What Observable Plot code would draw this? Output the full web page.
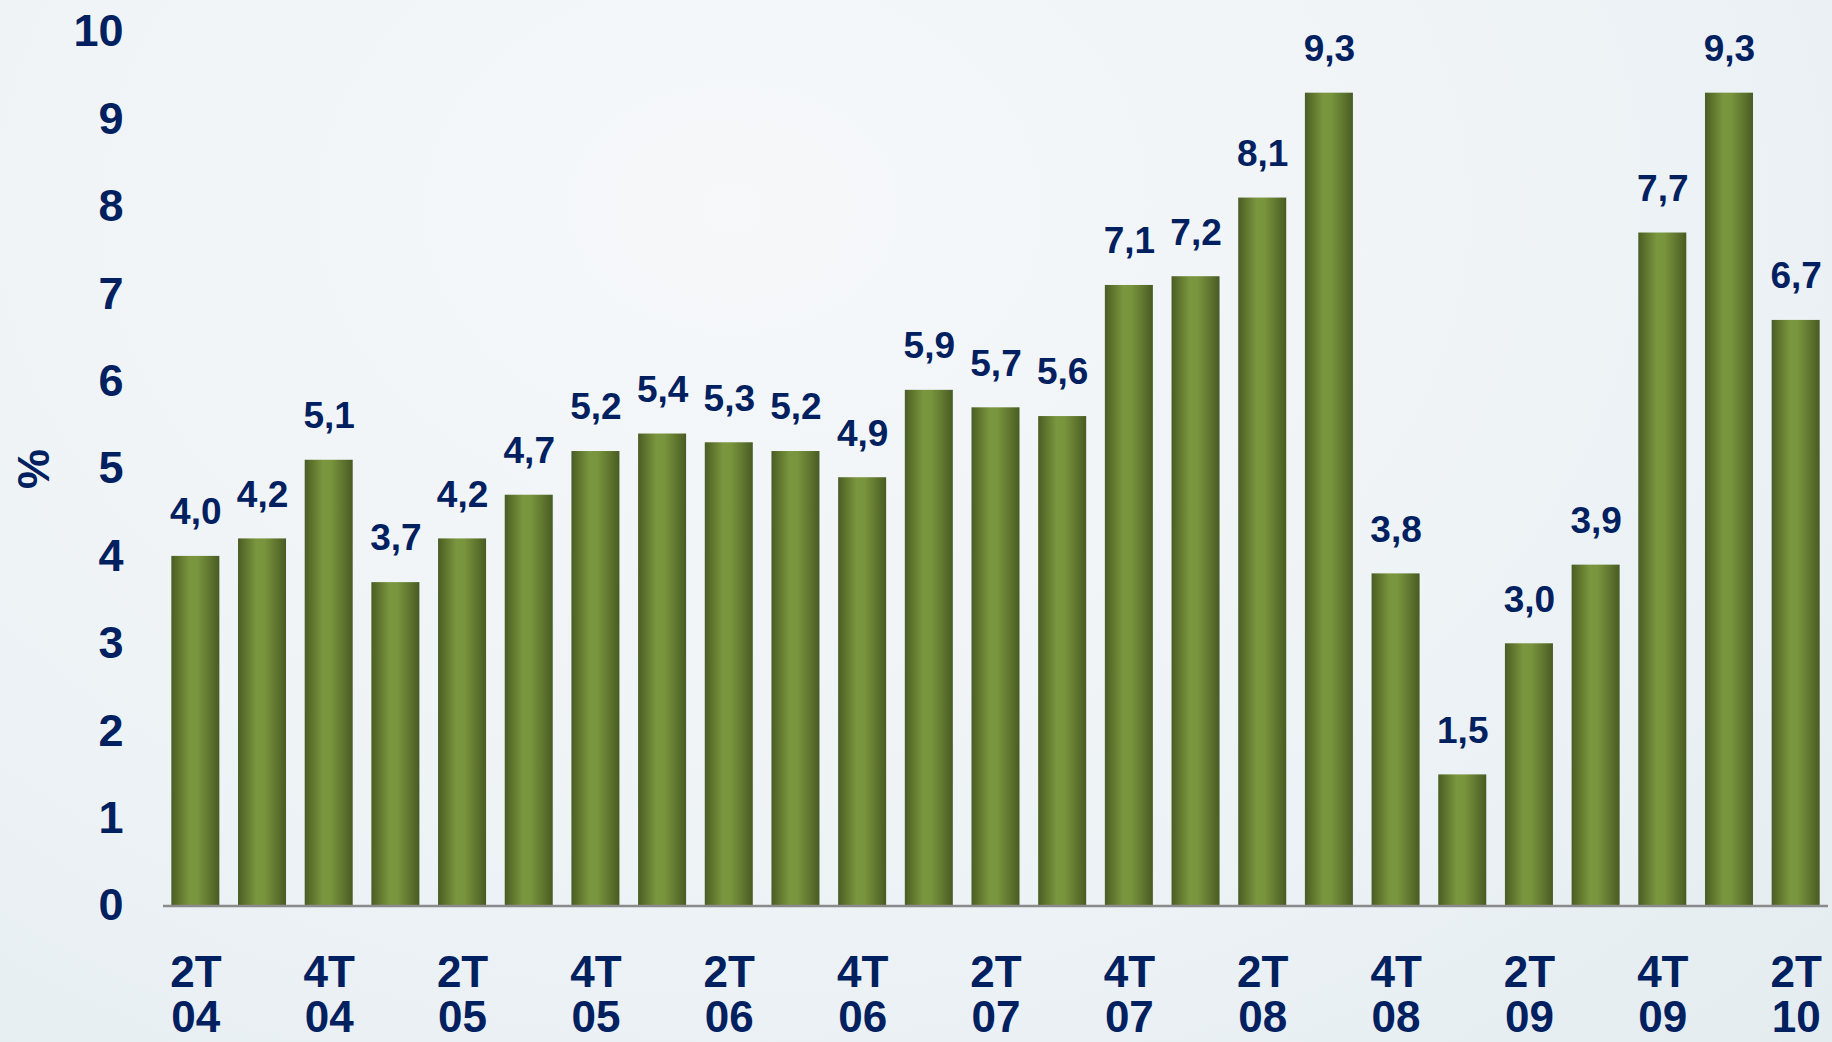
<!DOCTYPE html>
<html>
<head>
<meta charset="utf-8">
<script src="https://cdn.jsdelivr.net/npm/d3@7"></script>
<script src="https://cdn.jsdelivr.net/npm/@observablehq/plot@0.6"></script>
<style>
  html, body { margin: 0; padding: 0; }
  body {
    width: 1832px; height: 1042px; overflow: hidden;
    background: radial-gradient(ellipse at 40% 20%, #f6f8fa 0%, #eef3f6 55%, #e4ecef 100%);
  }
  #chart svg { display: block; }
</style>
</head>
<body>
<div id="chart"></div>
<script>
// Quarters (trimestres) from 2T04 to 2T10
const quarters = [
  "2T04","3T04","4T04",
  "1T05","2T05","3T05","4T05",
  "1T06","2T06","3T06","4T06",
  "1T07","2T07","3T07","4T07",
  "1T08","2T08","3T08","4T08",
  "1T09","2T09","3T09","4T09",
  "1T10","2T10"
];
// Values in %
const values = [
  4.0, 4.2, 5.1,
  3.7, 4.2, 4.7, 5.2,
  5.4, 5.3, 5.2, 4.9,
  5.9, 5.7, 5.6, 7.1,
  7.2, 8.1, 9.3, 3.8,
  1.5, 3.0, 3.9, 7.7,
  9.3, 6.7
];
// Y tick values
const yTicks = [0, 1, 2, 3, 4, 5, 6, 7, 8, 9, 10];
// Quarters that carry an x tick label
const labeledQuarters = ["2T", "4T"];

const data = quarters.map((q, i) => ({q, v: values[i]}));
const fmt = v => d3.format(".1f")(v).replace(".", ",");

const navy = "#002060";

// gradient definitions for cylindrical-looking bars
const defs = () => {
  const g = d3.create("svg:defs");
  const lg = g.append("linearGradient")
    .attr("id", "barGrad")
    .attr("x1", "0").attr("x2", "1").attr("y1", "0").attr("y2", "0");
  [
    ["0%", "#4a5d25"],
    ["18%", "#62782f"],
    ["38%", "#7a963f"],
    ["55%", "#78943d"],
    ["80%", "#5f752e"],
    ["100%", "#485b24"]
  ].forEach(([o, c]) => lg.append("stop").attr("offset", o).attr("stop-color", c));
  return g.node();
};

const chart = Plot.plot({
  width: 1832,
  height: 1042,
  marginLeft: 163,
  marginRight: 4,
  marginTop: 31.5,
  marginBottom: 136.5,
  style: {
    background: "transparent",
    fontFamily: "'Liberation Sans', Arial, sans-serif",
    fontWeight: "bold",
    color: navy,
    overflow: "visible"
  },
  x: {domain: quarters, paddingInner: 0.28, paddingOuter: 0.125, round: false, axis: null},
  y: {domain: [0, 10], axis: null},
  marks: [
    defs,
    Plot.barY(data, {x: "q", y: "v", fill: "url(#barGrad)"}),
    Plot.ruleY([0], {stroke: "#8a8a8a", strokeWidth: 2.5}),
    Plot.text(data, {
      x: "q", y: "v", text: d => fmt(d.v),
      dy: -44, fontSize: 37, fontWeight: "bold", fill: navy
    }),
    Plot.axisY({
      ticks: yTicks, tickSize: 0, tickPadding: 40, fontSize: 45,
      fill: navy, label: "%", labelAnchor: "center", labelOffset: 146, labelArrow: "none"
    }),
    Plot.axisX({
      tickSize: 0, tickPadding: 49, fontSize: 44, lineHeight: 1.02, fill: navy,
      label: null,
      tickFormat: q => labeledQuarters.includes(q.slice(0, 2)) && quarters.indexOf(q) % 2 === 0
        ? q.slice(0, 2) + "\n" + q.slice(2) : ""
    })
  ]
});

document.getElementById("chart").appendChild(chart);
</script>
</body>
</html>
